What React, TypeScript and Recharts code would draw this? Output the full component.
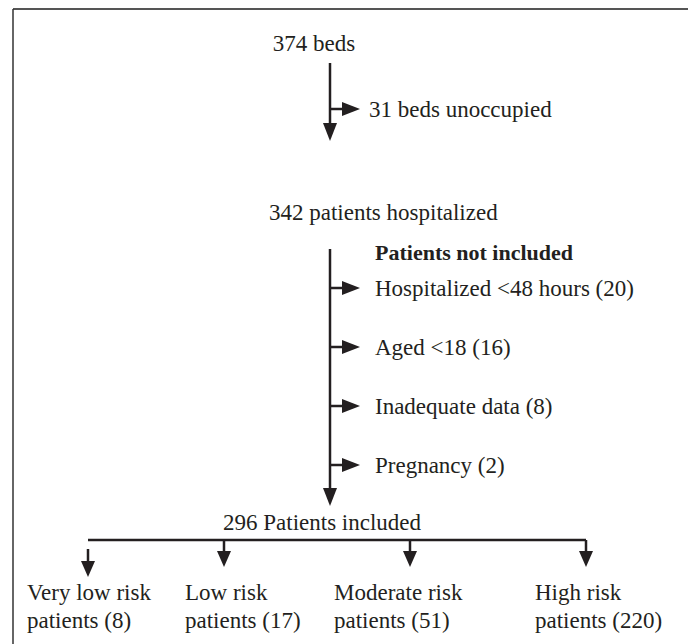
import { ScatterChart, Scatter, XAxis, YAxis, ReferenceLine } from 'recharts'

// flow counts
const stageLabels = ['beds', 'beds unoccupied', 'patients hospitalized', 'Patients included']
const stageCounts = [374, 31, 342, 296]
const exclusionHeading = 'Patients not included'
const exclusionReasons = ['Hospitalized <48 hours', 'Aged <18', 'Inadequate data', 'Pregnancy']
const exclusionCounts = [20, 16, 8, 2]
const riskGroups = ['Very low risk', 'Low risk', 'Moderate risk', 'High risk']
const riskCounts = [8, 17, 51, 220]

// layout (page pixels, mapped through the hidden axes)
const W = 688
const H = 636
const spineX = 330
const branchTipX = 360
const textX = 375
const exclusionRowY = [288, 347, 406, 465]
const riskArrowX = [88, 224, 410, 586]
const riskTextX = [27, 185, 334, 535]
const splitY = 540

const ink = '#231f20'
const font = "'Liberation Serif', 'Times New Roman', serif"

type Node = { x: number; y: number; text: string; anchor?: string; bold?: boolean }
type Head = { x: number; y: number; dir: 'down' | 'right'; len?: number }

const textNodes: Node[] = [
  { x: 314, y: 43, text: `${stageCounts[0]} ${stageLabels[0]}`, anchor: 'middle' },
  { x: 369, y: 109, text: `${stageCounts[1]} ${stageLabels[1]}` },
  { x: 269, y: 212, text: `${stageCounts[2]} ${stageLabels[2]}` },
  { x: textX, y: 252, text: exclusionHeading, bold: true },
  ...exclusionReasons.map((r, i) => ({ x: textX, y: exclusionRowY[i], text: `${r} (${exclusionCounts[i]})` })),
  { x: 223, y: 522, text: `${stageCounts[3]} ${stageLabels[3]}` },
  ...riskGroups.map((g, i) => ({ x: riskTextX[i], y: 592, text: g })),
  ...riskCounts.map((c, i) => ({ x: riskTextX[i], y: 620, text: `patients (${c})` })),
]

const heads: Head[] = [
  { x: spineX, y: 141, dir: 'down' },
  { x: branchTipX, y: 109, dir: 'right' },
  ...exclusionRowY.map((y) => ({ x: branchTipX, y, dir: 'right' as const })),
  { x: spineX, y: 506, dir: 'down' },
  ...riskArrowX.map((x) => ({ x, y: x === riskArrowX[0] ? 577 : 567, dir: 'down' as const, len: 16 })),
]

const segments: { x1: number; y1: number; x2: number; y2: number }[] = [
  { x1: spineX, y1: 63, x2: spineX, y2: 130 },
  { x1: spineX, y1: 109, x2: 350, y2: 109 },
  { x1: spineX, y1: 249, x2: spineX, y2: 495 },
  ...exclusionRowY.map((y) => ({ x1: spineX, y1: y, x2: 350, y2: y })),
  { x1: riskArrowX[0], y1: splitY, x2: riskArrowX[riskArrowX.length - 1], y2: splitY },
  { x1: riskArrowX[0], y1: 549, x2: riskArrowX[0], y2: 568 },
  ...riskArrowX.slice(1).map((x) => ({ x1: x, y1: splitY, x2: x, y2: 558 })),
]

function TextShape(props: any) {
  const { cx, cy, payload } = props
  return (
    <text
      x={cx}
      y={cy}
      textAnchor={payload.anchor || 'start'}
      dominantBaseline="central"
      style={{ fontFamily: font, fontSize: payload.bold ? 22 : 23, fontWeight: payload.bold ? 700 : 400 }}
      fill={ink}
    >
      {payload.text}
    </text>
  )
}

function HeadShape(props: any) {
  const { cx, cy, payload } = props
  const len = payload.len || 18
  const half = 7
  const pts =
    payload.dir === 'down'
      ? `${cx},${cy} ${cx - half},${cy - len} ${cx + half},${cy - len}`
      : `${cx},${cy} ${cx - len},${cy - half} ${cx - len},${cy + half}`
  return <polygon points={pts} fill={ink} />
}

export default function App() {
  return (
    <div style={{ width: W, height: H, fontFamily: font }}>
      <ScatterChart width={W} height={H} margin={{ top: 0, right: 0, bottom: 0, left: 0 }}>
        <XAxis type="number" dataKey="x" domain={[8, 8 + W]} allowDataOverflow hide />
        <YAxis type="number" dataKey="y" domain={[8, 8 + H]} allowDataOverflow reversed hide />
        {/* frame */}
        <ReferenceLine segment={[{ x: 13, y: 9 }, { x: 692, y: 9 }]} stroke="#555" strokeWidth={2} />
        <ReferenceLine segment={[{ x: 13, y: 9 }, { x: 13, y: 644 }]} stroke="#333" strokeWidth={1.5} />
        <ReferenceLine segment={[{ x: 692, y: 9 }, { x: 692, y: 644 }]} stroke="#333" strokeWidth={1.5} />
        {segments.map((s, i) => (
          <ReferenceLine
            key={i}
            segment={[{ x: s.x1, y: s.y1 }, { x: s.x2, y: s.y2 }]}
            stroke={ink}
            strokeWidth={2.5}
          />
        ))}
        <Scatter data={heads} shape={HeadShape} isAnimationActive={false} />
        <Scatter data={textNodes} shape={TextShape} isAnimationActive={false} />
      </ScatterChart>
    </div>
  )
}
